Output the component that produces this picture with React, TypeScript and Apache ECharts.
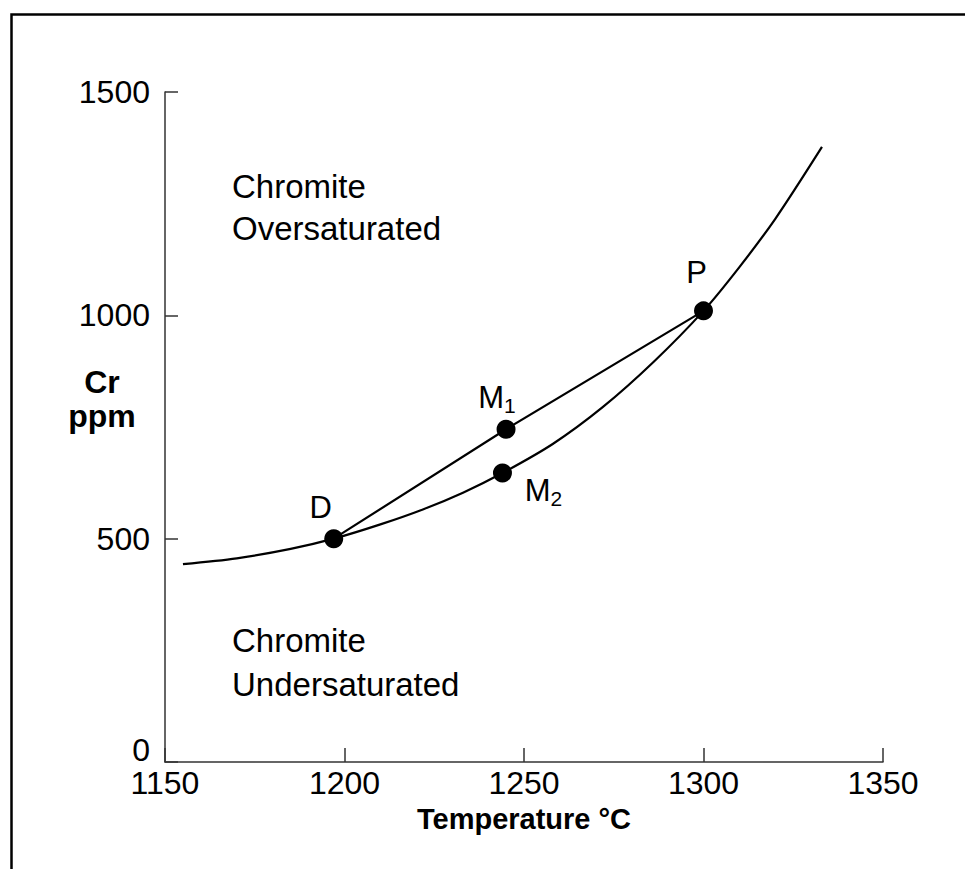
import React, { useEffect, useRef } from "react";
import * as echarts from "echarts";

const FONT = '"Liberation Sans", Arial, Helvetica, sans-serif';

// axis ranges (°C and ppm)
const tempMin = 1150;
const tempMax = 1350;
const tempStep = 50;
const crMin = 0;
const crMax = 1500;
const crStep = 500;

// chromite saturation curve
const saturationTemp = [1155, 1170, 1185, 1197, 1210, 1222, 1233, 1244, 1258, 1272, 1286, 1300, 1310, 1320, 1333];
const saturationCr = [443, 456, 477, 500, 532, 566, 603, 647, 712, 795, 895, 1010, 1108, 1216, 1377];

// straight mixing line D – M1 – P
const mixTemp = [1197, 1245, 1300];
const mixCr = [500, 745, 1010];

// labelled points
const pointNames = ["D", "M1", "M2", "P"];
const pointTemp = [1197, 1245, 1244, 1300];
const pointCr = [500, 745, 647, 1010];

// region annotations
const regionAbove = ["Chromite", "Oversaturated"];
const regionBelow = ["Chromite", "Undersaturated"];

const labelOffsets: Record<string, [number, number]> = {
  D: [-13, -31],
  M1: [-9, -32],
  M2: [41, 17],
  P: [-7, -38],
};

function pointLabel(name: string): string {
  if (name.length > 1) return `{m|${name[0]}}{s|${name.slice(1)}}`;
  return `{m|${name}}`;
}

export default function App() {
  const ref = useRef<HTMLDivElement>(null);

  useEffect(() => {
    if (!ref.current) return;
    const chart = echarts.init(ref.current, undefined, { renderer: "svg" });

    const saturation = saturationTemp.map((t, i) => [t, saturationCr[i]]);
    const mixing = mixTemp.map((t, i) => [t, mixCr[i]]);
    const points = pointNames.map((n, i) => ({
      name: n,
      value: [pointTemp[i], pointCr[i]],
      label: { offset: labelOffsets[n] },
    }));

    const axisLine = { show: true, lineStyle: { color: "#333", width: 1.5 } };
    const tickStyle = { color: "#333", width: 1.5 };

    chart.setOption({
      animation: false,
      backgroundColor: "#fff",
      grid: { left: 165, top: 92, width: 718, height: 670, containLabel: false },
      xAxis: {
        type: "value",
        min: tempMin,
        max: tempMax,
        interval: tempStep,
        axisLine,
        axisTick: { show: true, inside: true, length: 14, lineStyle: tickStyle },
        splitLine: { show: false },
        axisLabel: {
          color: "#000",
          fontSize: 32,
          lineHeight: 32,
          fontFamily: FONT,
          margin: 5,
          formatter: (v: number) => String(v),
        },
        name: "Temperature °C",
        nameLocation: "middle",
        nameGap: 42,
        nameMoveOverlap: false,
        nameTextStyle: { color: "#000", fontSize: 29, lineHeight: 29, fontWeight: "bold", fontFamily: FONT },
      },
      yAxis: {
        type: "value",
        min: crMin,
        max: crMax,
        interval: crStep,
        axisLine,
        axisTick: { show: true, inside: true, length: 13, lineStyle: tickStyle },
        splitLine: { show: false },
        axisLabel: {
          color: "#000",
          fontSize: 32,
          fontFamily: FONT,
          margin: 15,
          formatter: (v: number) => (v === 0 ? `{z|${v}}` : `{n|${v}}`),
          rich: {
            n: { fontSize: 32, fontFamily: FONT, color: "#000" },
            z: { fontSize: 32, fontFamily: FONT, color: "#000", padding: [0, 0, 24, 0] },
          },
        },
      },
      series: [
        {
          type: "line",
          data: saturation,
          smooth: 0.3,
          symbol: "none",
          lineStyle: { color: "#000", width: 2.2 },
          z: 2,
        },
        {
          type: "line",
          data: mixing,
          smooth: false,
          symbol: "none",
          lineStyle: { color: "#000", width: 2.2 },
          z: 2,
        },
        {
          type: "scatter",
          data: points,
          symbol: "circle",
          symbolSize: 19,
          itemStyle: { color: "#000", opacity: 1 },
          z: 3,
          label: {
            show: true,
            position: "inside",
            formatter: (p: any) => pointLabel(p.name),
            rich: {
              m: { fontSize: 31, lineHeight: 38, color: "#000", fontFamily: FONT },
              s: { fontSize: 21, lineHeight: 21, color: "#000", fontFamily: FONT, verticalAlign: "bottom" },
            },
          },
        },
      ],
      graphic: [
        {
          type: "rect",
          shape: { x: 11.5, y: 14.5, width: 1000, height: 900 },
          style: { fill: "none", stroke: "#000", lineWidth: 2.5 },
          silent: true,
        },
        {
          type: "text",
          style: {
            text: "Cr\nppm",
            x: 102,
            y: 399,
            align: "center",
            verticalAlign: "middle",
            font: `bold 32px ${FONT}`,
            lineHeight: 34,
            fill: "#000",
          },
        },
        {
          type: "text",
          style: {
            text: regionAbove.join("\n"),
            x: 232,
            y: 165,
            align: "left",
            verticalAlign: "top",
            font: `33px ${FONT}`,
            lineHeight: 42,
            fill: "#000",
          },
        },
        {
          type: "text",
          style: {
            text: regionBelow.join("\n"),
            x: 232,
            y: 618,
            align: "left",
            verticalAlign: "top",
            font: `33px ${FONT}`,
            lineHeight: 44,
            fill: "#000",
          },
        },
      ],
    });

    return () => chart.dispose();
  }, []);

  return (
    <div
      ref={ref}
      style={{ position: "fixed", left: 0, top: 0, width: 965, height: 869, background: "#fff" }}
    />
  );
}
